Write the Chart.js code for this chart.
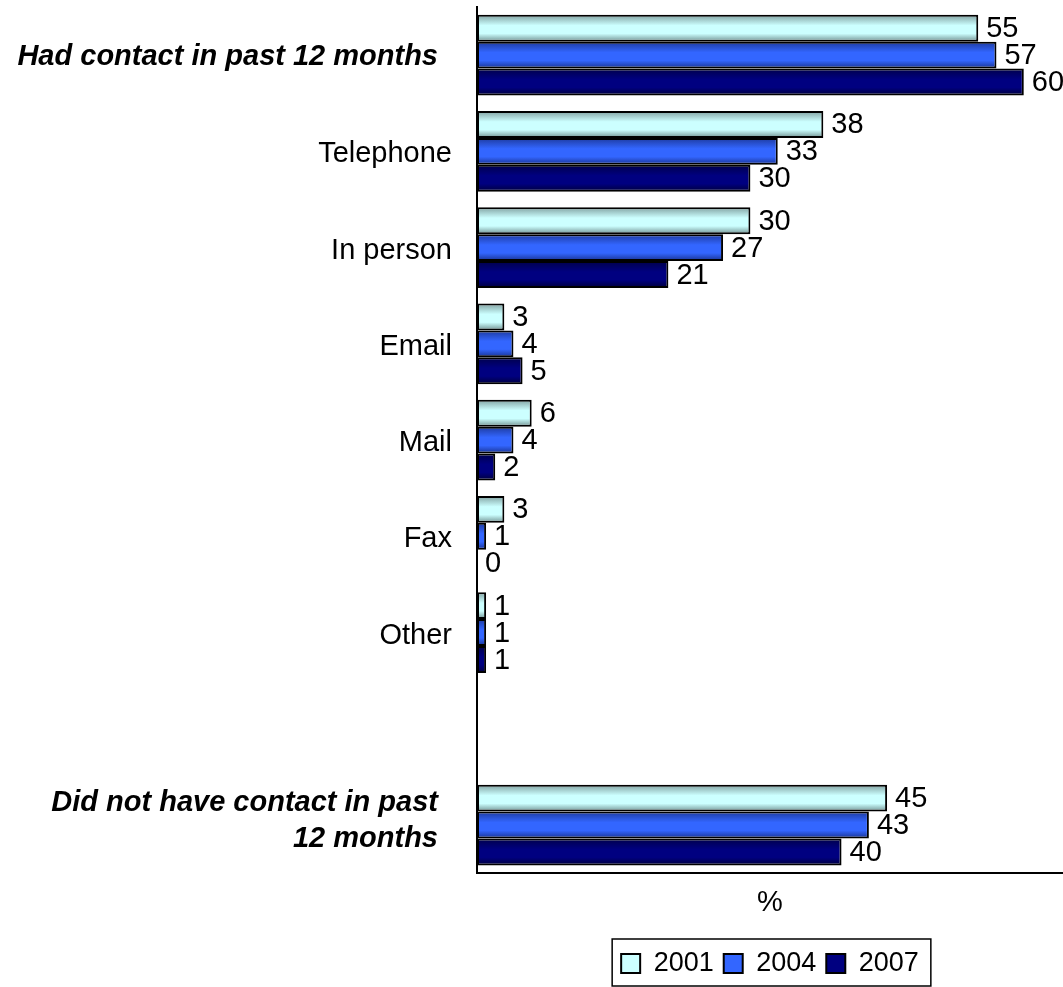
<!DOCTYPE html>
<html>
<head>
<meta charset="utf-8">
<script src="https://cdn.jsdelivr.net/npm/chart.js@4.4.1/dist/chart.umd.min.js"></script>
<style>
  html, body { margin: 0; padding: 0; background: #fff; }
  #wrap { width: 1063px; height: 987px; }
</style>
</head>
<body>
<div id="wrap"><canvas id="chart"></canvas></div>
<script>
const categories = [
    'Had contact in past 12 months',
    'Telephone',
    'In person',
    'Email',
    'Mail',
    'Fax',
    'Other',
    '',
    ['Did not have contact in past', '12 months']
];
const boldRows = [0, 8];
const years = ['2001', '2004', '2007'];
const series2001 = [55, 38, 30, 3, 6, 3, 1, null, 45];
const series2004 = [57, 33, 27, 4, 4, 1, 1, null, 43];
const series2007 = [60, 30, 21, 5, 2, 0, 1, null, 40];
const xMax = 64.3;

const baseColors = ['#ccffff', '#3366ff', '#000080'];
// top edge, middle, bottom edge of each bar's shading
const shades = [
    ['#7f9f9f', '#ccffff', '#6f8f8f'],
    ['#1d3a9e', '#3366ff', '#18318f'],
    ['#00004a', '#000080', '#00003a']
];

const FONT = '"Liberation Sans", Arial, sans-serif';

function barGradient(ctx, top, bottom, s) {
    const g = ctx.createLinearGradient(0, top, 0, bottom);
    g.addColorStop(0, s[0]);
    g.addColorStop(0.4, s[1]);
    g.addColorStop(0.7, s[1]);
    g.addColorStop(1, s[2]);
    return g;
}

// vertical shading on every bar
const shadeBars = {
    id: 'shadeBars',
    beforeDatasetsDraw(chart) {
        chart.data.datasets.forEach((ds, d) => {
            chart.getDatasetMeta(d).data.forEach(el => {
                if (!el || !isFinite(el.y)) return;
                const h = el.height;
                el.options.backgroundColor = barGradient(chart.ctx, el.y - h / 2, el.y + h / 2, shades[d]);
            });
        });
    }
};

// numbers to the right of the bars
const valueLabels = {
    id: 'valueLabels',
    afterDatasetsDraw(chart) {
        const ctx = chart.ctx;
        ctx.save();
        ctx.font = '29px ' + FONT;
        ctx.fillStyle = '#000';
        ctx.textAlign = 'left';
        ctx.textBaseline = 'middle';
        chart.data.datasets.forEach((ds, d) => {
            chart.getDatasetMeta(d).data.forEach((el, i) => {
                const v = ds.data[i];
                if (v === null || v === undefined) return;
                ctx.fillText(String(v), el.x + 8, el.y + 1);
            });
        });
        ctx.restore();
    }
};

// category names on the left, two of them bold italic
const categoryLabels = {
    id: 'categoryLabels',
    afterDraw(chart) {
        const ctx = chart.ctx;
        const y = chart.scales.y;
        ctx.save();
        ctx.fillStyle = '#000';
        ctx.textAlign = 'right';
        ctx.textBaseline = 'alphabetic';
        categories.forEach((label, i) => {
            const py = y.getPixelForValue(i);
            if (boldRows.includes(i)) {
                ctx.font = 'italic bold 29px ' + FONT;
                if (Array.isArray(label)) {
                    ctx.fillText(label[0], 438, py - 14);
                    ctx.fillText(label[1], 438, py + 22);
                } else {
                    ctx.fillText(label, 438, py + 10);
                }
            } else if (label) {
                ctx.font = '29px ' + FONT;
                ctx.fillText(label, 452, py + 11);
            }
        });
        ctx.restore();
    }
};

// box around the legend
const legendFrame = {
    id: 'legendFrame',
    afterDraw(chart) {
        const boxes = chart.legend && chart.legend.legendHitBoxes;
        if (!boxes || !boxes.length) return;
        const left = Math.min(...boxes.map(b => b.left)) - 9;
        const right = Math.max(...boxes.map(b => b.left + b.width)) + 12;
        const top = Math.min(...boxes.map(b => b.top)) - 11;
        const bottom = Math.max(...boxes.map(b => b.top + b.height)) + 9;
        const ctx = chart.ctx;
        ctx.save();
        ctx.strokeStyle = '#000';
        ctx.lineWidth = 1.5;
        ctx.strokeRect(left, top, right - left, bottom - top);
        ctx.restore();
    }
};

const seriesList = [series2001, series2004, series2007];

const chart = new Chart(document.getElementById('chart'), {
    type: 'bar',
    data: {
        labels: categories,
        datasets: years.map((year, d) => ({
            label: year,
            data: seriesList[d],
            backgroundColor: () => baseColors[d],
            borderColor: '#000',
            borderWidth: c => (c.raw === 0 ? 0 : 2),
            borderSkipped: false,
            barPercentage: 1,
            categoryPercentage: 0.84
        }))
    },
    options: {
        indexAxis: 'y',
        responsive: true,
        maintainAspectRatio: false,
        animation: false,
        layout: { padding: { top: 7, left: 477, right: 0, bottom: 0 } },
        scales: {
            x: {
                min: 0,
                max: xMax,
                grid: { display: false, drawTicks: false },
                border: { display: true, color: '#000', width: 2 },
                ticks: { display: false },
                title: {
                    display: true,
                    text: '%',
                    color: '#000',
                    font: { family: FONT, size: 29 },
                    padding: { top: 12, bottom: 20 }
                }
            },
            y: {
                grid: { display: false, drawTicks: false },
                border: { display: true, color: '#000', width: 2 },
                ticks: { display: false }
            }
        },
        plugins: {
            legend: {
                position: 'bottom',
                labels: {
                    color: '#000',
                    font: { family: FONT, size: 27 },
                    boxWidth: 19,
                    boxHeight: 19,
                    padding: 10
                }
            },
            tooltip: { enabled: false }
        }
    },
    plugins: [shadeBars, valueLabels, categoryLabels, legendFrame]
});
</script>
</body>
</html>
